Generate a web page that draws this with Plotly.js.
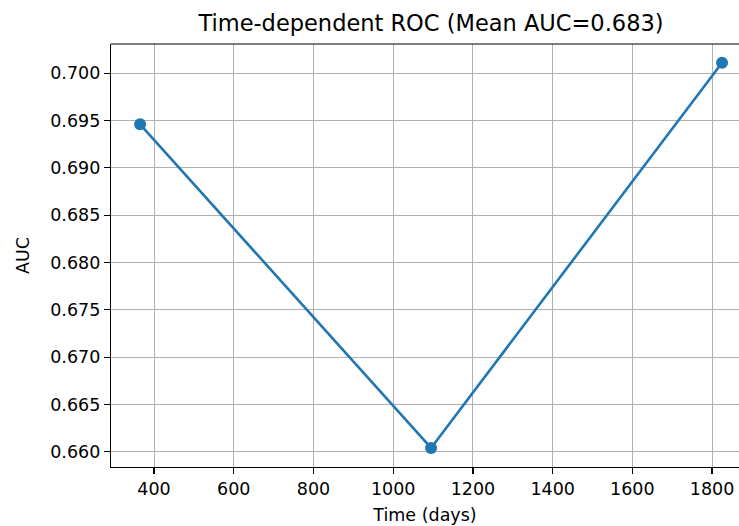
<!DOCTYPE html>
<html>
<head>
<meta charset="utf-8">
<script src="https://cdn.plot.ly/plotly-3.0.1.min.js"></script>
<style>html,body{margin:0;padding:0;background:#fff;}#chart{width:739px;height:526px;}</style>
</head>
<body>
<div id="chart"></div>
<script>
// Data
const timesDays = [365, 1095, 1825];
const aucValues = [0.6946, 0.6604, 0.7011];
const chartTitle = "Time-dependent ROC (Mean AUC=0.683)";
const xLabel = "Time (days)";
const yLabel = "AUC";

const font = "DejaVu Sans, sans-serif";

const trace = {
  x: timesDays,
  y: aucValues,
  type: "scatter",
  mode: "lines+markers",
  line: {color: "#1f77b4", width: 2.6},
  marker: {color: "#1f77b4", size: 12},
  showlegend: false,
  hoverinfo: "x+y"
};

const layout = {
  width: 739,
  height: 526,
  margin: {l: 111, r: 0, t: 44, b: 59, pad: 0},
  paper_bgcolor: "#ffffff",
  plot_bgcolor: "#ffffff",
  font: {family: font, color: "#000000", size: 17.5},
  title: {
    text: chartTitle,
    font: {family: font, size: 22.5, color: "#000000"},
    xref: "container", x: 431 / 739, xanchor: "center",
    yref: "container", y: 0.956, yanchor: "middle"
  },
  xaxis: {
    range: [292, 1867.5],
    tick0: 0, dtick: 200,
    showgrid: true, gridcolor: "#b0b0b0", gridwidth: 1,
    zeroline: false,
    showline: true, linecolor: "#000000", linewidth: 1.2,
    ticks: "outside", ticklen: 6, tickwidth: 1.2, tickcolor: "#000000",
    tickfont: {family: font, size: 17.5, color: "#000000"},
    title: {text: xLabel, font: {family: font, size: 17.5, color: "#000000"}, standoff: 10}
  },
  yaxis: {
    range: [0.65839, 0.70308],
    tick0: 0, dtick: 0.005, tickformat: ".3f",
    showgrid: true, gridcolor: "#b0b0b0", gridwidth: 1,
    zeroline: false,
    showline: true, linecolor: "#000000", linewidth: 1.2,
    ticks: "outside", ticklen: 6, tickwidth: 1.2, tickcolor: "#000000",
    tickfont: {family: font, size: 17.5, color: "#000000"},
    title: {text: yLabel, font: {family: font, size: 17.5, color: "#000000"}, standoff: 16}
  },
  shapes: [{
    type: "line", xref: "paper", yref: "paper",
    x0: 0, x1: 1, y0: 1, y1: 1,
    line: {color: "#000000", width: 1.2}
  }]
};

Plotly.newPlot("chart", [trace], layout, {displayModeBar: false, staticPlot: true});
</script>
</body>
</html>
